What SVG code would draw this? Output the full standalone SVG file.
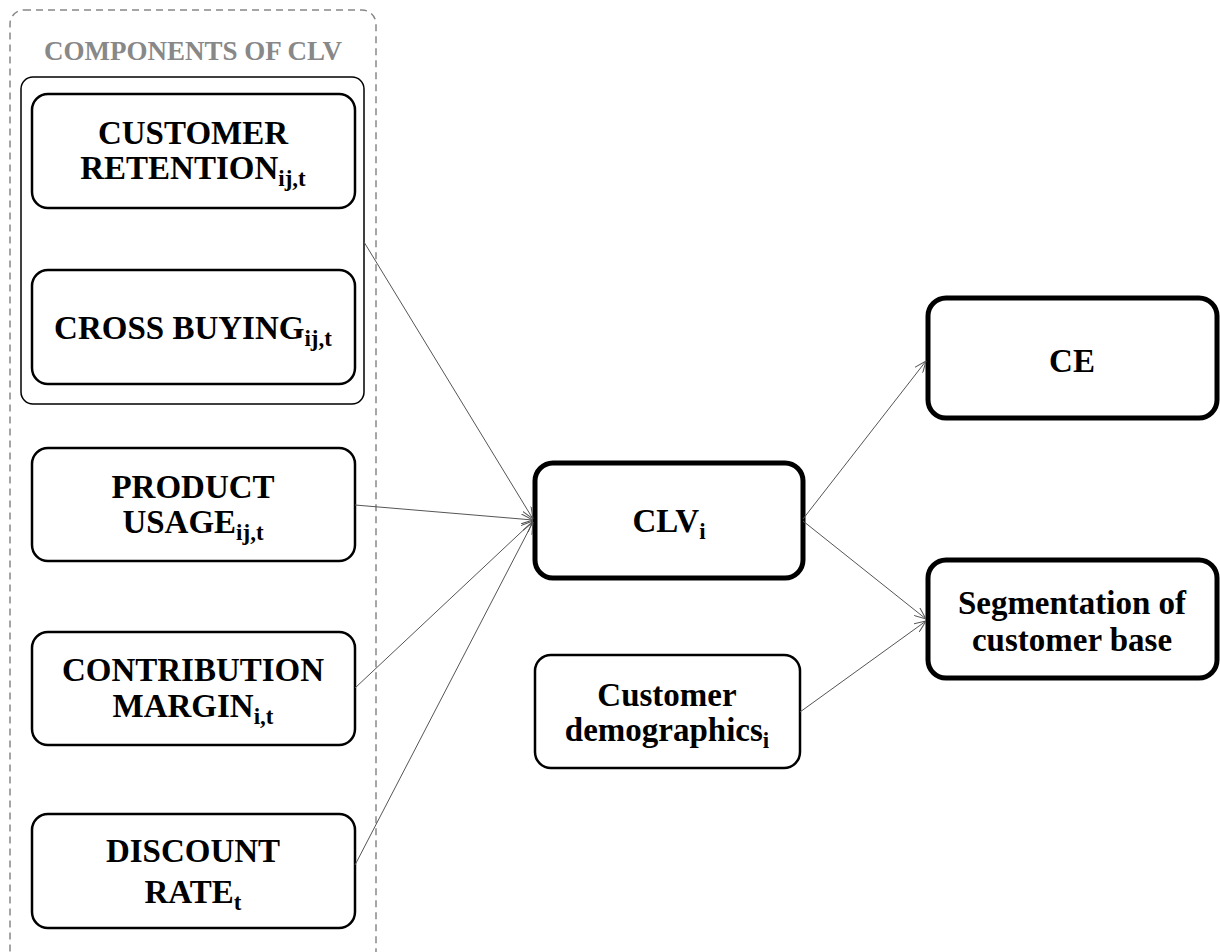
<svg xmlns="http://www.w3.org/2000/svg" width="1220" height="952" viewBox="0 0 1220 952">
  <style>
    .lbl { font-family: "Liberation Serif", "Times New Roman", serif; font-weight: bold; font-size: 33px; fill: #000; text-anchor: middle; }
    .sub { font-size: 23px; }
    .box { fill: #fff; stroke: #000; stroke-width: 2.5; }
    .thick { fill: #fff; stroke: #000; stroke-width: 5; }
    .edge { fill: none; stroke: #555; stroke-width: 1; marker-end: url(#arrow); }
  </style>
  <defs>
    <marker id="arrow" viewBox="0 0 12 10" refX="12" refY="5" markerWidth="12" markerHeight="10" markerUnits="userSpaceOnUse" orient="auto">
      <path d="M0,0 L12,5 L0,10" fill="none" stroke="#555" stroke-width="1"/>
    </marker>
  </defs>
  <rect width="1220" height="952" fill="#fff"/>

  <!-- components container -->
  <g id="components">
    <rect x="10" y="10" width="366" height="955" rx="14" fill="none" stroke="#888" stroke-width="1.5" stroke-dasharray="7,5"/>
    <text x="193" y="60" class="lbl" style="font-size:27px;fill:#888">COMPONENTS OF CLV</text>
  </g>

  <g id="retention-group">
    <rect x="21" y="77" width="343" height="327" rx="12" fill="none" stroke="#000" stroke-width="1.5"/>
  </g>

  <g id="customer-retention">
    <rect class="box" x="32" y="94" width="323" height="114" rx="16"/>
    <text class="lbl" x="193" y="144">CUSTOMER</text>
    <text class="lbl" x="193" y="179">RETENTION<tspan class="sub" dy="7">ij,t</tspan></text>
  </g>

  <g id="cross-buying">
    <rect class="box" x="32" y="270" width="323" height="114" rx="16"/>
    <text class="lbl" x="193" y="339">CROSS BUYING<tspan class="sub" dy="7">ij,t</tspan></text>
  </g>

  <g id="product-usage">
    <rect class="box" x="32" y="448" width="323" height="113" rx="16"/>
    <text class="lbl" x="193" y="498">PRODUCT</text>
    <text class="lbl" x="193" y="533">USAGE<tspan class="sub" dy="7">ij,t</tspan></text>
  </g>

  <g id="contribution-margin">
    <rect class="box" x="32" y="632" width="323" height="113" rx="16"/>
    <text class="lbl" x="193" y="681">CONTRIBUTION</text>
    <text class="lbl" x="193" y="717">MARGIN<tspan class="sub" dy="7">i,t</tspan></text>
  </g>

  <g id="discount-rate">
    <rect class="box" x="32" y="814" width="323" height="114" rx="16"/>
    <text class="lbl" x="193" y="862">DISCOUNT</text>
    <text class="lbl" x="193" y="903">RATE<tspan class="sub" dy="7">t</tspan></text>
  </g>

  <g id="clv">
    <rect class="thick" x="535" y="463" width="268" height="115" rx="18"/>
    <text class="lbl" x="669" y="532">CLV<tspan class="sub" dy="7">i</tspan></text>
  </g>

  <g id="ce">
    <rect class="thick" x="928" y="298" width="289" height="120" rx="18"/>
    <text class="lbl" x="1072" y="372">CE</text>
  </g>

  <g id="segmentation">
    <rect class="thick" x="928" y="560" width="289" height="118" rx="18"/>
    <text class="lbl" x="1072" y="614">Segmentation of</text>
    <text class="lbl" x="1072" y="651">customer base</text>
  </g>

  <g id="demographics">
    <rect class="box" x="535" y="655" width="265" height="113" rx="16"/>
    <text class="lbl" x="667" y="706">Customer</text>
    <text class="lbl" x="667" y="741">demographics<tspan class="sub" dy="7">i</tspan></text>
  </g>

  <g id="connectors">
    <line class="edge" x1="364" y1="242" x2="533" y2="519"/>
    <line class="edge" x1="355" y1="505" x2="533" y2="520"/>
    <line class="edge" x1="355" y1="688" x2="533" y2="521"/>
    <line class="edge" x1="355" y1="865" x2="533" y2="522"/>
    <line class="edge" x1="803" y1="519" x2="926" y2="361"/>
    <line class="edge" x1="803" y1="521" x2="926" y2="619"/>
    <line class="edge" x1="800" y1="712" x2="926" y2="621"/>
  </g>
</svg>
